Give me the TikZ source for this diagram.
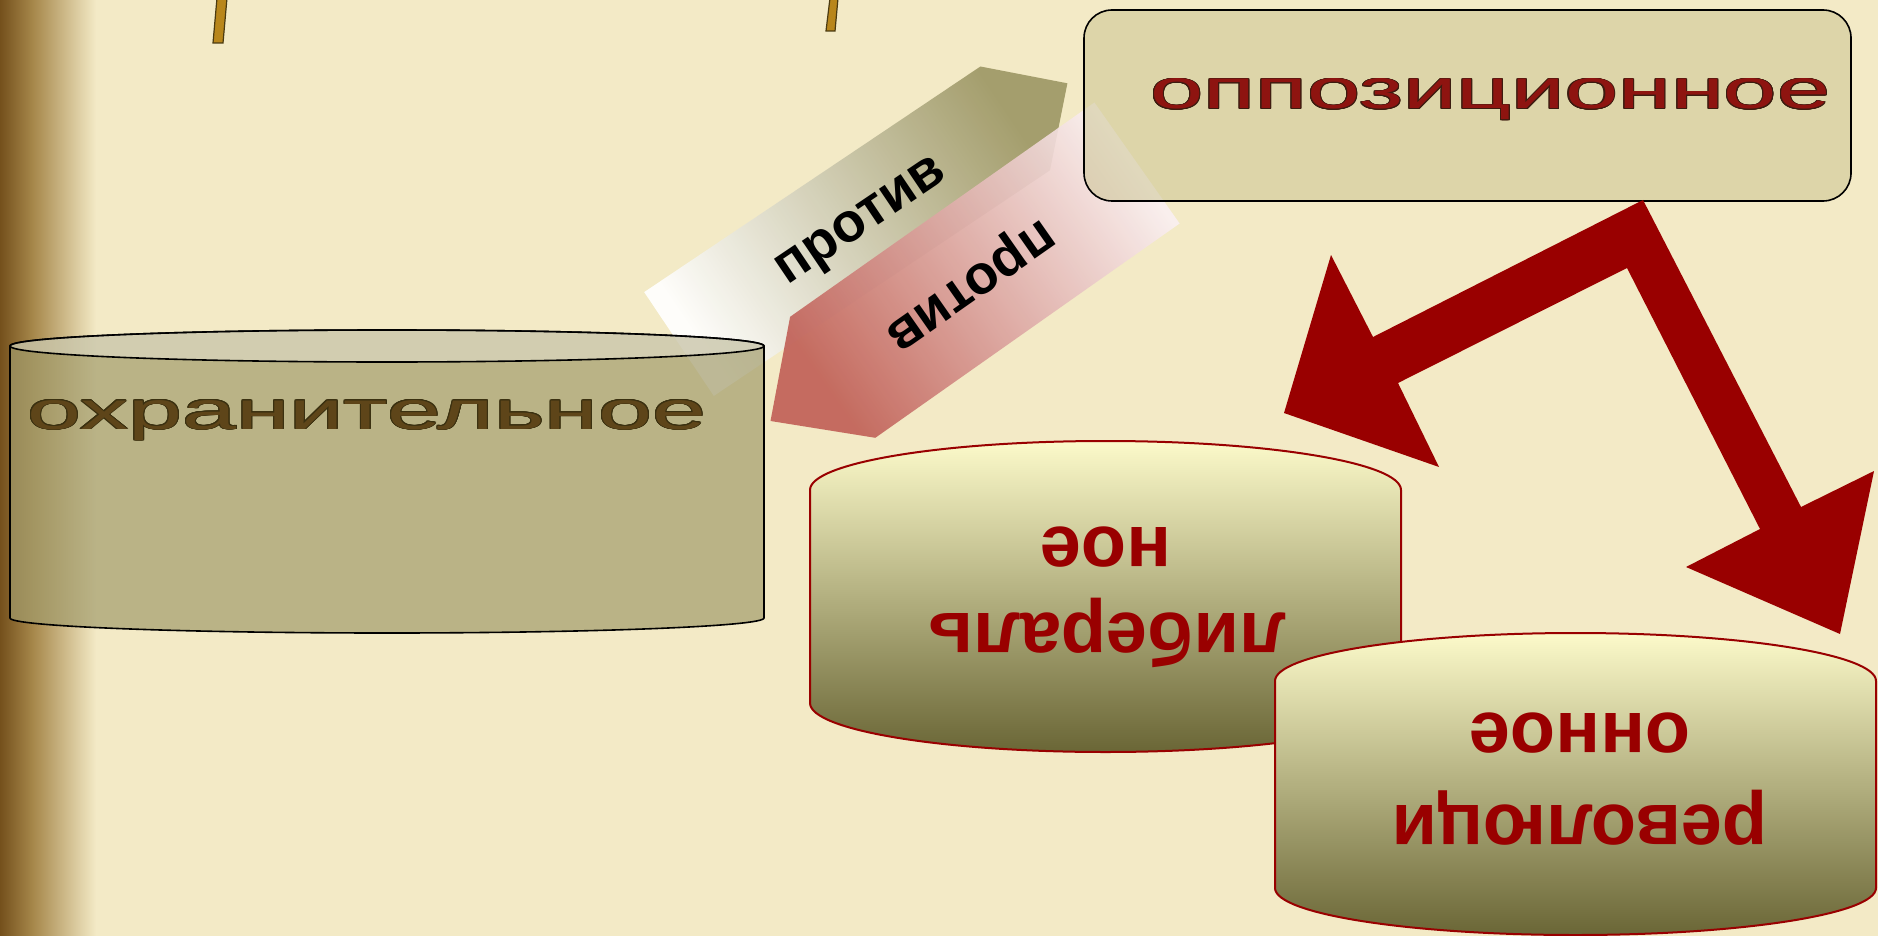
\documentclass[tikz,border=0pt]{standalone}
\usepackage{fontspec}
\setmainfont{Liberation Sans}
\usepackage[copies]{contour}
\definecolor{bgc}{HTML}{F3EAC6}
\definecolor{stripdark}{HTML}{74501C}
\definecolor{stripmid}{HTML}{A6874A}
\definecolor{stickc}{HTML}{B8861B}
\definecolor{stickline}{HTML}{4A3A10}
\definecolor{khakiA}{HTML}{A29C6C}
\definecolor{khakiB}{HTML}{C8C28D}
\definecolor{arrowkhaki}{HTML}{9E9866}
\definecolor{pinkdark}{HTML}{C05E55}
\definecolor{pinklight}{HTML}{FAF0F2}
\definecolor{darkred}{HTML}{990000}
\definecolor{oppred}{HTML}{8E1410}
\definecolor{oppline}{HTML}{3C1C10}
\definecolor{ohrbrown}{HTML}{5E4519}
\definecolor{ohrline}{HTML}{3A3010}
\definecolor{cyltop}{HTML}{FCFACA}
\definecolor{cylmid}{HTML}{C8C492}
\definecolor{cylbot}{HTML}{6A6636}
\pgfdeclarehorizontalshading{stripshade}{100bp}{color(0bp)=(stripdark); color(25bp)=(stripdark); color(42bp)=(stripmid); color(75bp)=(bgc); color(100bp)=(bgc)}
\tikzset{
  stickbox/.style={fill=stickc, draw=stickline, line width=1.2pt},
  bandtext/.style={font=\fontsize{55}{60}\selectfont\bfseries, text=black, inner sep=0pt},
  cyltext/.style={font=\fontsize{74}{80}\selectfont\bfseries, text=darkred, inner sep=0pt, rotate=180, anchor=base},
  drum/.style={draw=darkred, line width=2pt, top color=cyltop, middle color=cylmid, bottom color=cylbot},
}
\contourlength{0.6pt}
\begin{document}
\begin{tikzpicture}[x=1pt,y=-1pt]
\useasboundingbox (0,0) rectangle (1878,936);
\fill[bgc] (0,0) rectangle (1878,936);
\shade[shading=stripshade] (0,0) rectangle (96,936);
% sticks
\draw[stickbox] (217,-2) -- (227,-2) -- (223,43) -- (213,43) -- cycle;
\draw[stickbox] (830,-2) -- (838,-2) -- (835,31) -- (826,31) -- cycle;
% upper band arrow
\shade[top color=arrowkhaki, bottom color=white, shading angle=-56, opacity=0.92]
  (644.2,292.1) -- (980.4,66.5) -- (1067.4,83.3) -- (1050,170.3) -- (713.8,395.9) -- cycle;
% lower band arrow
\shade[top color=pinklight, bottom color=pinkdark, shading angle=-55, opacity=0.9]
  (1094.4,102.5) -- (790.1,316.8) -- (770.5,421) -- (875.3,437.8) -- (1179.6,223.5) -- cycle;
\node[bandtext, rotate=34] (t1) at (863,224) {против};
\node[bandtext, rotate=215] (t2) at (968,282) {против};
% cylinder охранительное
\path[fill=khakiA, fill opacity=0.7, draw=black, line width=1.6pt]
  (10,346) -- (10,618) .. controls (10,626.3) and (178.8,633) .. (387,633)
  .. controls (595.2,633) and (764,626.3) .. (764,618) -- (764,346)
  .. controls (764,337.2) and (595.2,330) .. (387,330)
  .. controls (178.8,330) and (10,337.2) .. (10,346) -- cycle;
\path[fill=white, fill opacity=0.35, draw=black, line width=1.6pt] (387,346) ellipse [x radius=377, y radius=16];
\node[inner sep=0pt, anchor=base west] (ohr) at (27,429)
  {\resizebox{679pt}{29pt}{\fontsize{56}{60}\selectfont\color{ohrbrown}\contour{ohrline}{охранительное}}};
% rectangle оппозиционное
\path[fill=khakiB, fill opacity=0.5, draw=black, line width=1.6pt, rounded corners=28pt]
  (1084,10) rectangle (1851,201);
\node[inner sep=0pt, anchor=base west] (opp) at (1150,109)
  {\resizebox{680pt}{30pt}{\fontsize{56}{60}\selectfont\color{oppred}\contour{oppline}{оппозиционное}}};
% red double arrow
\fill[darkred] (1643,200) -- (1801,507) -- (1874,471) -- (1840,634) -- (1686,567) -- (1760,529)
  -- (1627,268) -- (1398,383) -- (1439,467) -- (1284,413) -- (1331,255) -- (1373,337) -- cycle;
% cylinder либеральное
\path[drum] (810,490) .. controls (810,462.9) and (942.3,441) .. (1105.5,441)
  .. controls (1268.7,441) and (1401,462.9) .. (1401,490) -- (1401,703)
  .. controls (1401,730.1) and (1268.7,752) .. (1105.5,752)
  .. controls (942.3,752) and (810,730.1) .. (810,703) -- cycle;
\node[cyltext] (lib1) at (1106,527) {ное};
\node[cyltext] (lib2) at (1107,613) {либераль};
% cylinder революционное
\path[drum] (1275,681) .. controls (1275,654.5) and (1409.5,633) .. (1575.5,633)
  .. controls (1741.5,633) and (1876,654.5) .. (1876,681) -- (1876,888)
  .. controls (1876,914) and (1741.5,935) .. (1575.5,935)
  .. controls (1409.5,935) and (1275,914) .. (1275,888) -- cycle;
\node[cyltext] (rev1) at (1580,713) {онное};
\node[cyltext] (rev2) at (1580,805) {революци};
\end{tikzpicture}
\end{document}
